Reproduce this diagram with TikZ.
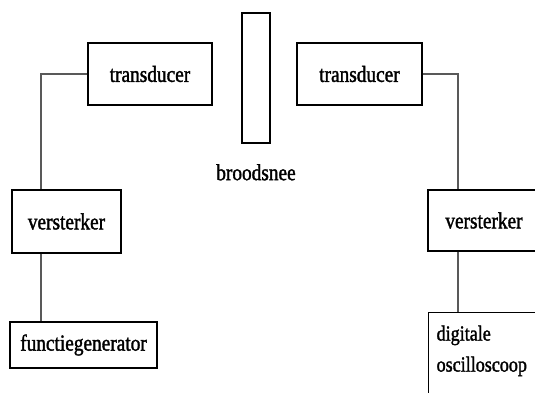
\documentclass[tikz,border=0pt]{standalone}
\usepackage{fontspec}
\setmainfont[FakeStretch=0.84,FakeBold=1.5]{Liberation Serif}
\usetikzlibrary{positioning}

\begin{document}
\begin{tikzpicture}[
    x=1pt, y=-1pt,
    every node/.style={font=\fontsize{23}{31}\selectfont},
    box/.style={rectangle, draw, line width=1.3pt, inner sep=0pt},
    wire/.style={draw=black!65, line width=1.4pt}
  ]
  \useasboundingbox (0,0) rectangle (535,392);
  \clip (0,0) rectangle (535,392);

  \node[box, minimum width=124pt, minimum height=62pt] (tl) at (150,74) {transducer};
  \node[box, minimum width=28pt, minimum height=130pt] (bs) at (256,78) {};
  \node[below=17pt of bs] (lbl) {broodsnee};
  \node[box, minimum width=125pt, minimum height=62pt] (tr) at (359.5,74) {transducer};

  \node[box, minimum width=109pt, minimum height=63pt] (vl) at (66.5,221.5) {versterker};
  \node[box, minimum width=147pt, minimum height=46pt] (fg) at (83.5,345) {functiegenerator};

  \node[box, minimum width=112pt, minimum height=61pt] (vr) at (484,220.5) {versterker};
  \node[box, anchor=north west, align=left, text width=110pt, inner xsep=8pt, inner ysep=13pt,
        text depth=40pt, font=\fontsize{21.5}{31}\selectfont]
        (osc) at (428,312) {digitale\\oscilloscoop};

  \coordinate (lbus) at (41,0);
  \coordinate (rbus) at (458,0);

  \draw[wire] (tl.west) -| (lbus |- vl.north);
  \draw[wire] (vl.south -| lbus) -- (fg.north -| lbus);
  \draw[wire] (tr.east) -| (rbus |- vr.north);
  \draw[wire] (vr.south -| rbus) -- (osc.north -| rbus);

\end{tikzpicture}
\end{document}
